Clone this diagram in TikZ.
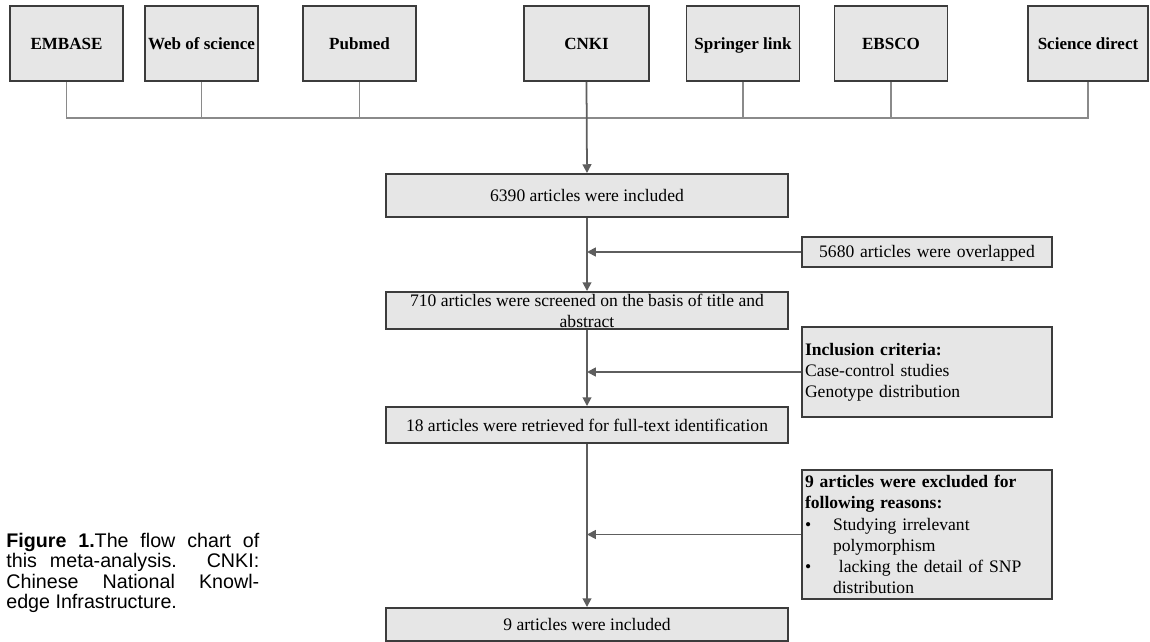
\documentclass[tikz,border=0pt]{standalone}
\usepackage{fontspec}
\setmainfont{Liberation Serif}
\newfontfamily\capfont{Liberation Sans}
\usetikzlibrary{positioning,arrows.meta}
\definecolor{boxfill}{HTML}{E6E6E6}
\definecolor{boxline}{HTML}{3C3C3C}
\definecolor{linkgray}{HTML}{8A8A8A}
\definecolor{flowgray}{HTML}{5E5E5E}
\tikzset{
  srcbox/.style={draw=boxline, fill=boxfill, line width=1.1pt, minimum width=2.26cm,
    minimum height=1.5cm, inner sep=1pt, text height=1.7ex, text depth=0.3ex,
    font=\fontsize{9.7}{12}\selectfont\bfseries},
  mainbox/.style={draw=boxline, fill=boxfill, line width=1.1pt, minimum width=8.04cm,
    inner sep=0pt, align=center, font=\fontsize{10}{12}\selectfont},
  sidebox/.style={draw=boxline, fill=boxfill, line width=1.1pt, minimum width=5cm,
    text width=4.88cm, inner sep=0.06cm, align=left, font=\fontsize{10}{12}\selectfont},
  link/.style={draw=linkgray, line width=1pt},
  flow/.style={draw=flowgray, line width=1pt, -{Triangle[length=5pt,width=5pt]}},
}

\begin{document}
\begin{tikzpicture}[x=0.02cm, y=-0.02cm]
\useasboundingbox (0,0) rectangle (1150,642);
% databases
\node[srcbox] (embase) at (66.5,43.5) {EMBASE};
\node[srcbox] (wos) at (201.5,43.5) {Web of science};
\node[srcbox] (pubmed) at (359.5,43.5) {Pubmed};
\node[srcbox, minimum width=2.5cm] (cnki) at (586.5,43.5) {CNKI};
\node[srcbox] (springer) at (743,43.5) {Springer link};
\node[srcbox] (ebsco) at (891,43.5) {EBSCO};
\node[srcbox, minimum width=2.4cm] (scidir) at (1088,43.5) {Science direct};
\coordinate (bus) at (0,118);
\draw[link] (embase.south) -- (embase.south |- bus) -- (scidir.south |- bus) -- (scidir.south);
\foreach \src in {wos,pubmed,springer,ebsco}
    \draw[link] (\src.south) -- (\src.south |- bus);

% main column
\node[mainbox, minimum height=0.86cm] (inc) at (587,195.5) {6390 articles were included};
\node[mainbox, minimum height=0.74cm] (scr) at (587,310.5)
    {710 articles were screened on the basis of title and\\abstract};
\node[mainbox, minimum height=0.72cm] (ret) at (587,425)
    {18 articles were retrieved for full-text identification};
\node[mainbox, minimum height=0.66cm] (fin) at (587,624.5) {9 articles were included};
\draw[flow] (cnki.south) -- (inc.north);
\draw[flow] (inc) -- (scr);
\draw[flow] (scr) -- (ret);
\draw[flow] (ret) -- (fin);

% side boxes
\node[sidebox, minimum height=0.6cm, align=center, text height=1.7ex, text depth=0.3ex]
    (ovl) at (927,252) {5680 articles were overlapped};
\node[sidebox, minimum height=1.8cm] (crit) at (927,372)
    {\textbf{Inclusion criteria:}\\Case-control studies\\Genotype distribution};
\node[sidebox, minimum height=2.58cm] (excl) at (927,534.5)
    {\textbf{9 articles were excluded for}\\
     \textbf{following reasons:}\\
     \makebox[0.56cm][l]{\textbullet}Studying irrelevant\\
     \hspace*{0.56cm}polymorphism\\
     \makebox[0.56cm][l]{\textbullet}\ lacking the detail of SNP\\
     \hspace*{0.56cm}distribution};
\draw[flow] (ovl.west) -- (ovl.west -| inc.south);
\draw[flow] (crit.west) -- (crit.west -| scr.south);
\draw[flow] (excl.west) -- (excl.west -| ret.south);

% caption
\node[anchor=north west, inner sep=0pt, text width=5.06cm, align=justify,
    font=\capfont\fontsize{11.2}{11.5}\selectfont] (caption) at (6,533)
    {\textbf{Figure 1.}The flow chart of\linebreak this meta-analysis. CNKI:\linebreak
     Chinese National Knowl-\linebreak edge Infrastructure.};
\end{tikzpicture}
\end{document}
